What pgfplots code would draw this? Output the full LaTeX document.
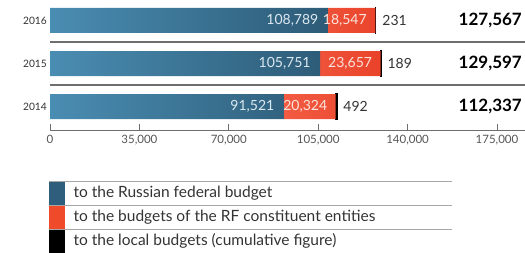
\documentclass[border=0pt]{standalone}
\usepackage{fontspec}
\setmainfont{Lato}
\usepackage{pgfplots}
\pgfplotsset{compat=1.18}
\definecolor{bluel}{HTML}{4A8DB2}
\definecolor{blued}{HTML}{2D5B77}
\definecolor{redl}{HTML}{F25C42}
\definecolor{redd}{HTML}{E9432A}
\definecolor{legblue}{HTML}{2E5E7C}
\definecolor{legred}{HTML}{EF4A2A}
\definecolor{sepc}{HTML}{6E6E6E}
\definecolor{txt}{HTML}{333333}
\definecolor{ticktxt}{HTML}{555555}
\definecolor{vallab}{HTML}{DCE8F0}
\definecolor{redlab}{HTML}{FBE3DC}
\tikzset{vlab/.style={font=\fontsize{14}{16}\selectfont}}
\pgfplotsset{
  common/.style={
    at={(50pt,-130pt)}, anchor=south west,
    scale only axis, width=447pt, height=130pt,
    xmin=0, xmax=175000, ymin=-0.5465, ymax=2.4767,
    clip=false,
  },
}
\begin{document}
\begin{tikzpicture}
\useasboundingbox (0pt,0pt) rectangle (525pt,-252pt);
\begin{axis}[
  common,
  xbar stacked, bar width=25pt,
  axis line style={draw=none},
  tick pos=left,
  ytick={0,1,2}, yticklabels={2014,2015,2016},
  y tick style={draw=none}, 
  yticklabel style={font=\fontsize{10.2}{12}\selectfont, text=txt, anchor=east, inner sep=0pt, xshift=-3pt},
  xtick={0,35000,70000,105000,140000,175000},
  xticklabels={0,{35,000},{70,000},{105,000},{140,000},{175,000}},
  scaled x ticks=false,
  xtick align=inside, major tick length=6pt,
  x tick style={color=sepc, line width=1pt},
  xticklabel style={font=\fontsize{11.5}{13}\selectfont, text=ticktxt, yshift=-2pt},
]
\addplot[xbar, draw=none, left color=bluel, right color=blued]
  coordinates {(91521,0) (105751,1) (108789,2)};
\addplot[xbar, draw=none, left color=redl, right color=redd]
  coordinates {(20324,0) (23657,1) (18547,2)};
\addplot[xbar, fill=black, draw=black, line width=1.3pt]
  coordinates {(492,0) (189,1) (231,2)};
\draw[sepc, line width=1.2pt] (axis cs:0,0.5) -- (axis cs:186000,0.5);
\draw[sepc, line width=1.2pt] (axis cs:0,1.5) -- (axis cs:186000,1.5);
\draw[sepc, line width=1pt] (axis cs:0,-0.5465) -- (axis cs:186000,-0.5465);
\end{axis}
% labels at the end of each cumulative segment
\begin{axis}[common, hide axis]
\addplot[draw=none, mark=none, point meta=explicit symbolic, nodes near coords,
  every node near coord/.append style={anchor=east, xshift=-6pt, text=vallab, vlab}]
  coordinates {(91521,0) [91{,}521] (105751,1) [105{,}751] (108789,2) [108{,}789]};
\addplot[draw=none, mark=none, point meta=explicit symbolic, nodes near coords,
  every node near coord/.append style={anchor=east, xshift=-5pt, text=redlab, vlab}]
  coordinates {(111845,0) [20{,}324] (129408,1) [23{,}657] (127336,2) [18{,}547]};
\addplot[draw=none, mark=none, point meta=explicit symbolic, nodes near coords,
  every node near coord/.append style={anchor=west, xshift=3pt, text=txt, vlab}]
  coordinates {(112337,0) [492] (129597,1) [189] (127567,2) [231]};
\addplot[draw=none, mark=none, point meta=explicit symbolic, nodes near coords,
  every node near coord/.append style={anchor=east, inner sep=0pt, text=black, font=\fontsize{17}{19}\selectfont\bfseries}]
  coordinates {(184800,0) [112{,}337] (184800,1) [129{,}597] (184800,2) [127{,}567]};
\end{axis}
% legend
\fill[legblue] (49pt,-181pt) rectangle (65pt,-205pt);
\fill[legred] (49pt,-205pt) rectangle (65pt,-229pt);
\fill[black] (49pt,-229pt) rectangle (65pt,-253pt);
\foreach \yy in {-181,-205,-229} \draw[gray!70, line width=1pt] (49pt,\yy pt) -- (452pt,\yy pt);
\node[anchor=west, text=txt, font=\fontsize{15.5}{17}\selectfont] at (70pt,-193pt) {to the Russian federal budget};
\node[anchor=west, text=txt, font=\fontsize{15.5}{17}\selectfont] at (70pt,-217pt) {to the budgets of the RF constituent entities};
\node[anchor=west, text=txt, font=\fontsize{15.5}{17}\selectfont] at (70pt,-241pt) {to the local budgets (cumulative figure)};
\end{tikzpicture}
\end{document}
